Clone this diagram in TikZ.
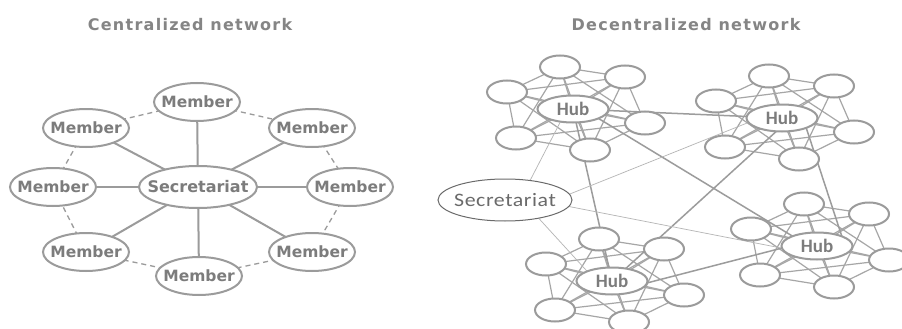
\documentclass[tikz,border=0pt]{standalone}
\usepackage{fontspec}
\usetikzlibrary{shapes.geometric,backgrounds}
\newfontfamily\dvs{DejaVu Sans}
\newfontfamily\ttlfont[LetterSpace=8]{DejaVu Sans}
\newfontfamily\carl{Carlito}
\newfontfamily\secfont[FakeStretch=1.15,LetterSpace=3]{Carlito}
\definecolor{edgegray}{HTML}{9B9B9B}
\definecolor{txtgray}{HTML}{7C7C7C}
\definecolor{ttlgray}{HTML}{858585}
\definecolor{ingray}{HTML}{A6A6A6}
\definecolor{longgray}{HTML}{9C9C9C}
\definecolor{thingray}{HTML}{B5B5B5}
\definecolor{secgray}{HTML}{6A6A6A}
\newcommand\zb[1]{\makebox[0pt]{#1}}
\newcommand\cluster[3]{%
  \node[hub] (#1h) at (#2,#3) {\zb{Hub}};
  \node[sat] (#1a) at (#2-13,#3-42) {};
  \node[sat] (#1b) at (#2+52,#3-32) {};
  \node[sat] (#1c) at (#2-66,#3-17) {};
  \node[sat] (#1d) at (#2+72,#3+14) {};
  \node[sat] (#1e) at (#2-57,#3+29) {};
  \node[sat] (#1f) at (#2+17,#3+41) {};
}
\newcommand\clusteredges[1]{%
  \foreach \p/\q in {a/b,a/c,a/d,a/e,a/f,b/c,b/d,b/e,b/f,c/d,c/e,c/f,d/e,d/f,e/f,h/a,h/b,h/c,h/d,h/e,h/f}
    {\draw[inner] (#1\p.center) -- (#1\q.center);}
}
\begin{document}
\begin{tikzpicture}[x=1pt,y=-1pt,
  member/.style={ellipse,draw=edgegray,line width=2pt,fill=white,inner sep=0pt,
    minimum width=86pt,minimum height=38pt,
    font=\dvs\bfseries\fontsize{15.5}{18}\selectfont,text=txtgray},
  centre/.style={member,minimum width=118pt,minimum height=42pt,font=\dvs\bfseries\fontsize{16}{18}\selectfont},
  spoke/.style={draw=edgegray,line width=2pt},
  ring/.style={draw=edgegray,line width=1.3pt,dash pattern=on 5pt off 4pt},
  hub/.style={ellipse,draw=edgegray,line width=2pt,fill=white,inner sep=0pt,
    minimum width=71pt,minimum height=27pt,
    font=\carl\bfseries\fontsize{19}{21}\selectfont,text=txtgray},
  sat/.style={ellipse,draw=edgegray,line width=2pt,fill=white,inner sep=0pt,
    minimum width=40pt,minimum height=23pt},
  inner/.style={draw=ingray,line width=1.2pt},
  longline/.style={draw=longgray,line width=1.5pt},
  thinline/.style={draw=thingray,line width=0.7pt},
  secnode/.style={ellipse,draw=secgray,line width=1pt,fill=white,inner sep=0pt,
    minimum width=134pt,minimum height=42pt,
    font=\secfont\fontsize{19}{21}\selectfont,text=secgray},
  title/.style={font=\ttlfont\bfseries\fontsize{16}{18}\selectfont,text=ttlgray,inner sep=0pt}
]
\useasboundingbox (0,0) rectangle (902,329);

% titles
\node[title] (t1) at (190,25) {Centralized network};
\node[title] (t2) at (686,25) {Decentralized network};

% centralized network
\node[centre] (sec) at (198,187) {\zb{Secretariat}};
\node[member] (m1) at (197,102) {\zb{Member}};
\node[member] (m2) at (312,128) {\zb{Member}};
\node[member] (m3) at (350,187) {\zb{Member}};
\node[member] (m4) at (312,252) {\zb{Member}};
\node[member] (m5) at (199,276) {\zb{Member}};
\node[member] (m6) at (86,252) {\zb{Member}};
\node[member] (m7) at (53,187) {\zb{Member}};
\node[member] (m8) at (86,128) {\zb{Member}};

% decentralized network
\cluster{p}{573}{109}
\cluster{q}{782}{118}
\cluster{r}{612}{281}
\cluster{s}{817}{246}
\node[secnode] (dsec) at (505,200) {\zb{Secretariat}};

\begin{pgfonlayer}{background}
  \fill[white] (0,0) rectangle (902,329);
  \foreach \i in {1,...,8} {\draw[spoke] (sec.center) -- (m\i.center);}
  \foreach \i/\j in {1/2,2/3,3/4,4/5,5/6,6/7,7/8,8/1} {\draw[ring] (m\i.center) -- (m\j.center);}
  \clusteredges{p}
  \clusteredges{q}
  \clusteredges{r}
  \clusteredges{s}
  \draw[longline] (ph.center) -- (qh.center);
  \draw[longline] ([yshift=6pt]ph.center) -- ([yshift=-5pt]sh.center);
  \draw[longline] (ph.center) -- (rh.center);
  \draw[longline] ([xshift=9pt]qh.center) -- (rh.center);
  \draw[longline] ([xshift=21pt]qh.center) -- ([xshift=28pt]sh.center);
  \draw[longline] ([yshift=-11pt]rh.center) -- ([yshift=7pt]sh.center);
  \draw[thinline] ([xshift=15pt]dsec.center) -- ([xshift=-6pt]ph.center);
  \draw[thinline] ([xshift=15pt,yshift=-14pt]dsec.center) -- ([yshift=9pt]qh.center);
  \draw[thinline] ([yshift=6pt]dsec.center) -- ([yshift=-9pt]sh.center);
  \draw[thinline] ([xshift=17pt]dsec.center) -- ([xshift=-16pt]rh.center);
\end{pgfonlayer}
\end{tikzpicture}
\end{document}
